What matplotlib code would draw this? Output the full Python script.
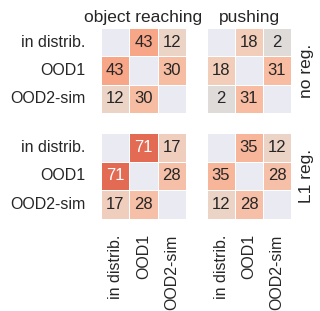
import numpy as np
import matplotlib
matplotlib.use("Agg")
import matplotlib.pyplot as plt
import seaborn as sns

sns.set_theme(style="darkgrid")
plt.rcParams['font.family'] = ['Liberation Sans', 'DejaVu Sans']

labels = ["in distrib.", "OOD1", "OOD2-sim"]
col_titles = ["object reaching", "pushing"]
row_titles = ["no reg.", "L1 reg."]

reach_noreg = [[np.nan, 43, 12], [43, np.nan, 30], [12, 30, np.nan]]
push_noreg = [[np.nan, 18, 2], [18, np.nan, 31], [2, 31, np.nan]]
reach_l1 = [[np.nan, 71, 17], [71, np.nan, 28], [17, 28, np.nan]]
push_l1 = [[np.nan, 35, 12], [35, np.nan, 28], [12, 28, np.nan]]

data = [[reach_noreg, push_noreg], [reach_l1, push_l1]]

fig = plt.figure(figsize=(3.2, 3.11), dpi=100)
lefts = [101 / 320, 207 / 320]
widths = [85 / 320, 84 / 320]
bottoms = [1 - 113 / 311, 1 - 219 / 311]
heights = [85 / 311, 86 / 311]

for r in range(2):
    for c in range(2):
        ax = fig.add_axes([lefts[c], bottoms[r], widths[c], heights[r]])
        sns.heatmap(np.array(data[r][c], dtype=float), ax=ax, cmap="coolwarm",
                    vmin=-100, vmax=100, center=0, annot=True, fmt=".0f",
                    cbar=False, linewidths=0.5, linecolor="white",
                    annot_kws={"fontsize": 12},
                    xticklabels=labels, yticklabels=labels)
        ax.grid(False)
        ax.tick_params(length=0, pad=11)
        if c == 0:
            ax.set_yticklabels(labels, rotation=0, fontsize=11.5)
        else:
            ax.set_yticks([])
        if r == 1:
            ax.set_xticklabels(labels, rotation=90, fontsize=11.5)
        else:
            ax.set_xticks([])
        if r == 0:
            ax.set_title(col_titles[c], fontsize=12.5, pad=4)
        if c == 1:
            ax.yaxis.set_label_position("right")
            ax.set_ylabel(row_titles[r], fontsize=12.5, labelpad=6)

fig.savefig("out.png", dpi=100)
